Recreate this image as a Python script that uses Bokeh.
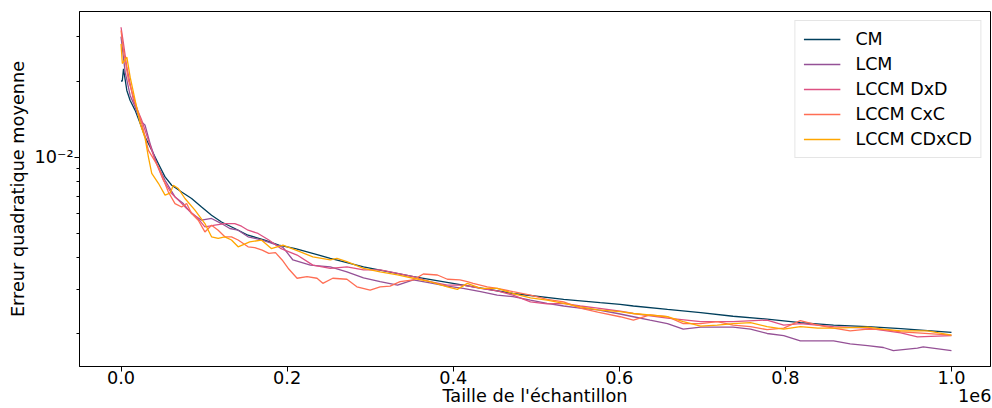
from bokeh.plotting import figure
from bokeh.models import Range1d, FixedTicker, Legend, LegendItem, LinearAxis
from bokeh.embed import file_html
from bokeh.resources import INLINE

# ---- data ----
x_cm = [0, 1500, 3000, 7000, 11000, 17000, 23000, 29000, 37000, 47000, 53000, 61000, 73000, 85000, 97000,
        109000, 121000, 137000, 153000, 173000, 190000, 210000, 252000, 292000, 352000, 412000, 472000,
        533000, 577000, 601000, 617000, 658000, 698000, 737000, 778000, 818000, 858000, 899000, 939000, 1000000]
y_cm = [0.0200, 0.0200, 0.02236, 0.01835, 0.01675, 0.01530, 0.01359, 0.01200, 0.01063, 0.00913, 0.00834,
        0.00773, 0.00727, 0.00685, 0.00634, 0.00588, 0.00553, 0.00521, 0.00490, 0.00469, 0.00448, 0.00434,
        0.00397, 0.00367, 0.00336, 0.00311, 0.00288, 0.00273, 0.00265, 0.00261, 0.00257, 0.00249, 0.00242,
        0.00234, 0.00228, 0.00221, 0.00216, 0.00213, 0.00209, 0.00202]

x_lcm = [0, 5000, 11000, 17000, 23000, 29000, 35000, 43000, 53000, 65000, 75000, 85000, 97000, 109000,
         121000, 131000, 141000, 153000, 170000, 182000, 195000, 207000, 228000, 252000, 272000, 292000,
         312000, 333000, 352000, 372000, 393000, 412000, 433000, 453000, 472000, 493000, 513000, 533000,
         553000, 574000, 598000, 617000, 637000, 658000, 677000, 698000, 737000, 758000, 778000, 798000,
         818000, 839000, 858000, 878000, 899000, 918000, 930000, 959000, 966000, 1000000]
y_lcm = [0.0300, 0.02168, 0.01753, 0.01576, 0.01397, 0.01335, 0.01130, 0.00942, 0.00809, 0.00695,
         0.00654, 0.00597, 0.00562, 0.00571, 0.00545, 0.00521, 0.00513, 0.00483, 0.00469, 0.00455,
         0.00439, 0.00391, 0.00373, 0.00367, 0.00351, 0.00332, 0.00321, 0.00311, 0.00326, 0.00317,
         0.00308, 0.00302, 0.00293, 0.00284, 0.00280, 0.00271, 0.00263, 0.00257, 0.00252, 0.00248,
         0.00240, 0.00233, 0.00226, 0.00219, 0.00208, 0.00212, 0.00212, 0.00208, 0.00200, 0.00196,
         0.00187, 0.00187, 0.00187, 0.00182, 0.00179, 0.00176, 0.00171, 0.00175, 0.00177, 0.00171]

x_dxd = [0, 3000, 7000, 15000, 25000, 33000, 41000, 51000, 61000, 69000, 79000, 91000, 101000, 113000,
         125000, 137000, 145000, 153000, 165000, 178000, 192000, 212000, 231000, 252000, 272000, 292000,
         312000, 333000, 352000, 372000, 393000, 412000, 433000, 453000, 472000, 493000, 513000, 533000,
         553000, 574000, 601000, 617000, 658000, 698000, 737000, 778000, 798000, 818000, 858000, 899000,
         939000, 959000, 1000000]
y_dxd = [0.03265, 0.02807, 0.02268, 0.01675, 0.01397, 0.01164, 0.00971, 0.00809, 0.00717, 0.00675,
         0.00625, 0.00579, 0.00529, 0.00537, 0.00545, 0.00545, 0.00532, 0.00513, 0.00498, 0.00469,
         0.00435, 0.00409, 0.00373, 0.00362, 0.00367, 0.00357, 0.00357, 0.00346, 0.00336, 0.00321,
         0.00311, 0.00311, 0.00302, 0.00295, 0.00284, 0.00267, 0.00262, 0.00263, 0.00257, 0.00252,
         0.00245, 0.00240, 0.00230, 0.00223, 0.00223, 0.00226, 0.00216, 0.00219, 0.00213, 0.00210,
         0.00201, 0.00194, 0.00196]

x_cxc = [0, 3000, 9000, 17000, 25000, 33000, 45000, 57000, 65000, 73000, 79000, 85000, 93000, 101000,
         109000, 117000, 125000, 133000, 141000, 153000, 161000, 170000, 178000, 186000, 194000, 202000,
         212000, 224000, 236000, 243000, 255000, 272000, 284000, 300000, 312000, 324000, 336000, 352000,
         364000, 381000, 393000, 408000, 417000, 424000, 441000, 453000, 472000, 493000, 513000, 533000,
         553000, 574000, 601000, 617000, 637000, 658000, 677000, 698000, 718000, 737000, 758000, 778000,
         798000, 818000, 839000, 858000, 878000, 899000, 918000, 939000, 959000, 1000000]
y_cxc = [0.03169, 0.02641, 0.02010, 0.01650, 0.01355, 0.01063, 0.00913, 0.00727, 0.00654, 0.00634,
         0.00654, 0.00597, 0.00562, 0.00505, 0.00537, 0.00513, 0.00483, 0.00483, 0.00469, 0.00441,
         0.00438, 0.00428, 0.00415, 0.00418, 0.00391, 0.00360, 0.00331, 0.00336, 0.00331, 0.00316,
         0.00331, 0.00328, 0.00306, 0.00297, 0.00306, 0.00308, 0.00321, 0.00326, 0.00344, 0.00341,
         0.00328, 0.00326, 0.00321, 0.00316, 0.00306, 0.00302, 0.00293, 0.00284, 0.00273, 0.00267,
         0.00252, 0.00243, 0.00233, 0.00226, 0.00237, 0.00233, 0.00219, 0.00219, 0.00223, 0.00216,
         0.00213, 0.00207, 0.00210, 0.00225, 0.00216, 0.00210, 0.00205, 0.00208, 0.00207, 0.00203,
         0.00201, 0.00197]

x_cdx = [0, 1600, 7000, 11000, 17000, 23000, 29000, 33000, 37000, 45000, 53000, 59000, 63000, 69000,
         77000, 89000, 101000, 109000, 117000, 125000, 133000, 141000, 155000, 169000, 181000, 195000,
         216000, 231000, 252000, 260000, 272000, 292000, 312000, 333000, 352000, 372000, 393000, 405000,
         417000, 433000, 453000, 472000, 493000, 513000, 533000, 553000, 574000, 601000, 617000, 658000,
         677000, 698000, 718000, 737000, 758000, 778000, 798000, 818000, 839000, 858000, 899000, 918000,
         939000, 971000, 1000000]
y_cdx = [0.02807, 0.02346, 0.02485, 0.02071, 0.01675, 0.01359, 0.01186, 0.01000, 0.00862, 0.00787,
         0.00706, 0.00719, 0.00773, 0.00750, 0.00685, 0.00616, 0.00545, 0.00483, 0.00476, 0.00483,
         0.00469, 0.00441, 0.00461, 0.00469, 0.00434, 0.00448, 0.00421, 0.00402, 0.00391, 0.00397,
         0.00385, 0.00362, 0.00351, 0.00341, 0.00331, 0.00321, 0.00306, 0.00299, 0.00316, 0.00302,
         0.00302, 0.00288, 0.00277, 0.00271, 0.00263, 0.00255, 0.00248, 0.00244, 0.00240, 0.00233,
         0.00223, 0.00214, 0.00216, 0.00219, 0.00221, 0.00213, 0.00208, 0.00213, 0.00210, 0.00210,
         0.00212, 0.00208, 0.00205, 0.00205, 0.00197]

series_names = ["CM", "LCM", "LCCM DxD", "LCCM CxC", "LCCM CDxCD"]
series_colors = ["#003f5c", "#955196", "#dd5182", "#ff6e54", "#ffa600"]

x_ticks = [0, 200000, 400000, 600000, 800000, 1000000]
x_tick_labels = ["0.0", "0.2", "0.4", "0.6", "0.8", "1.0"]
y_major_ticks = [0.01]
y_major_labels = ["10\u207b\u00b2"]
y_minor_ticks = [0.002, 0.003, 0.004, 0.005, 0.006, 0.007, 0.008, 0.009, 0.02, 0.03]

x_label = "Taille de l'échantillon"
x_offset_text = "1e6"
y_label = "Erreur quadratique moyenne"

X_START, X_END = -50000, 1047000
FONT = "DejaVu Sans"
FS = "17.7px"

p = figure(width=992, height=408, y_axis_type="log",
           x_range=Range1d(X_START, X_END), y_range=Range1d(0.00148, 0.0377),
           output_backend="svg", toolbar_location=None,
           min_border_left=79, min_border_right=2, min_border_top=11, min_border_bottom=42)

p.xgrid.visible = False
p.ygrid.visible = False
p.outline_line_color = "black"
p.outline_line_alpha = 1
p.outline_line_width = 1
p.background_fill_color = "white"
p.border_fill_color = "white"

renderers = []
for xs, ys, c in zip([x_cm, x_lcm, x_dxd, x_cxc, x_cdx], [y_cm, y_lcm, y_dxd, y_cxc, y_cdx], series_colors):
    r = p.line(xs, ys, line_color=c, line_width=1.3)
    renderers.append(r)

p.xaxis.ticker = FixedTicker(ticks=x_ticks, minor_ticks=[])
p.xaxis.major_label_overrides = {t: l for t, l in zip(x_ticks, x_tick_labels)}
p.yaxis.ticker = FixedTicker(ticks=y_major_ticks, minor_ticks=y_minor_ticks)
p.yaxis.major_label_overrides = {t: l for t, l in zip(y_major_ticks, y_major_labels)}

for ax in (p.xaxis[0], p.yaxis[0]):
    ax.axis_line_color = "black"
    ax.major_tick_line_color = "black"
    ax.minor_tick_line_color = "black"
    ax.major_tick_out = 5
    ax.major_tick_in = 0
    ax.minor_tick_out = 3
    ax.minor_tick_in = 0
    ax.major_label_text_font = FONT
    ax.major_label_text_font_size = FS
    ax.major_label_text_color = "black"
    ax.axis_label_text_font = FONT
    ax.axis_label_text_font_size = FS
    ax.axis_label_text_font_style = "normal"
    ax.axis_label_text_color = "black"

p.xaxis.major_label_standoff = -1
p.yaxis.major_label_standoff = 1
p.yaxis.axis_label = y_label
p.yaxis.axis_label_standoff = 4

# second row below the ticks: axis title centred, offset text "1e6" at the right end
label_pos = [(X_START + X_END) / 2, X_END - 19000]
label_axis = LinearAxis(ticker=FixedTicker(ticks=label_pos, minor_ticks=[]),
                        major_label_overrides={label_pos[0]: x_label, label_pos[1]: x_offset_text},
                        axis_line_color=None, major_tick_line_color=None, minor_tick_line_color=None,
                        major_tick_in=0, major_tick_out=0, minor_tick_in=0, minor_tick_out=0,
                        major_label_standoff=-1, major_label_text_font=FONT,
                        major_label_text_font_size=FS, major_label_text_color="black")
p.add_layout(label_axis, "below")

legend = Legend(items=[LegendItem(label=n, renderers=[r]) for n, r in zip(series_names, renderers)],
                location="top_right", margin=9, padding=8, spacing=5,
                glyph_width=37, glyph_height=20, label_height=20, label_standoff=15,
                label_text_font=FONT, label_text_font_size="17.5px", label_text_color="black",
                border_line_color="#cccccc", border_line_width=1,
                background_fill_color="white", background_fill_alpha=0.8)
p.add_layout(legend)

open("out.html", "w").write(file_html(p, INLINE))
